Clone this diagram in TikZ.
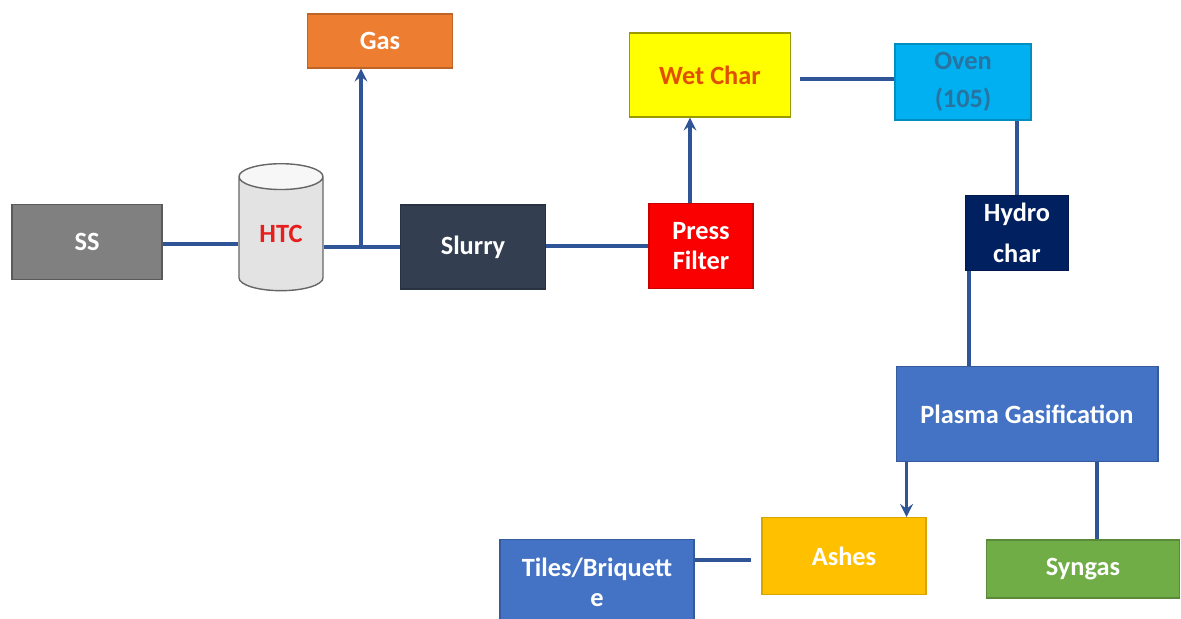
\documentclass[tikz,border=0pt]{standalone}
\usepackage{fontspec}
\setmainfont{Carlito}
\usepackage{tikz}
\usetikzlibrary{calc}
\usetikzlibrary{positioning}
\usetikzlibrary{shapes.geometric}
\usetikzlibrary{arrows}
\definecolor{flowline}{RGB}{47,85,151}
\definecolor{ssgray}{RGB}{128,128,128}
\definecolor{gasorange}{RGB}{237,125,49}
\definecolor{slurrydark}{RGB}{51,63,80}
\definecolor{pressred}{RGB}{250,0,0}
\definecolor{wetyellow}{RGB}{255,255,0}
\definecolor{wettext}{RGB}{225,80,0}
\definecolor{ovenblue}{RGB}{0,176,240}
\definecolor{oventext}{RGB}{40,115,160}
\definecolor{hydronavy}{RGB}{0,32,96}
\definecolor{plasmablue}{RGB}{68,114,196}
\definecolor{ashgold}{RGB}{255,192,0}
\definecolor{syngreen}{RGB}{112,173,71}
\definecolor{htcred}{RGB}{230,30,30}
\tikzset{
  box/.style = {rectangle, align=center, inner sep=0pt, text centered,
    font=\bfseries\fontsize{15}{17}\selectfont, line width=0.6pt},
  ss_box/.style = {box, white, fill=ssgray, draw=ssgray!70!black},
  gas_box/.style = {box, white, fill=gasorange, draw=gasorange!80!black},
  slurry_box/.style = {box, white, fill=slurrydark, draw=slurrydark!80!black},
  press_box/.style = {box, white, fill=pressred, draw=pressred!80!black},
  wet_box/.style = {box, wettext, fill=wetyellow, draw=wetyellow!60!black},
  oven_box/.style = {box, oventext, fill=ovenblue, draw=ovenblue!80!black,
    font=\bfseries\fontsize{15}{22}\selectfont},
  hydro_box/.style = {box, white, fill=hydronavy, draw=hydronavy!80!black,
    font=\bfseries\fontsize{15}{23}\selectfont},
  plasma_box/.style = {box, white, fill=plasmablue, draw=plasmablue!80!black},
  ash_box/.style = {box, white, fill=ashgold, draw=ashgold!85!black},
  syn_box/.style = {box, white, fill=syngreen, draw=syngreen!80!black},
  flow/.style = {draw=flowline, line width=2.2pt},
  flowarrow/.style = {flow, ->}
}

\begin{document}
\begin{tikzpicture}[
    >=stealth,
    x=0.02cm, y=-0.02cm
    ]
  \useasboundingbox (0,0) rectangle (1181,619);
  % first row
  \node (ss) [ss_box, minimum width=3cm, minimum height=1.5cm] at (87,242) {SS};
  \node (htc) [cylinder, shape border rotate=90, aspect=0.6,
    draw=gray!80!black, line width=0.8pt,
    cylinder uses custom fill, cylinder end fill=gray!6, cylinder body fill=gray!22,
    minimum height=2.54cm, minimum width=1.68cm, inner sep=0pt,
    font=\bfseries\fontsize{15}{17}\selectfont, text=htcred] at (281,234) {HTC};
  \node (gas) [gas_box, minimum width=2.9cm, minimum height=1.08cm] at (380,41) {Gas};
  \node (slurry) [slurry_box, minimum width=2.9cm, minimum height=1.68cm] at (473,247) {Slurry};
  \node (press) [press_box, minimum width=2.08cm, minimum height=1.7cm] at (701,246) {Press\\Filter};
  \node (wetchar) [wet_box, minimum width=3.22cm, minimum height=1.68cm] at (710,75) {Wet Char};
  \node (oven) [oven_box, minimum width=2.72cm, minimum height=1.52cm] at (963,82) {Oven\\(105)};
  \node (hydro) [hydro_box, minimum width=2.06cm, minimum height=1.5cm] at (1017,233) {Hydro\\char};
  % lower part
  \node (plasma) [plasma_box, minimum width=5.24cm, minimum height=1.9cm] at (1027,414) {Plasma Gasification};
  \node (ashes) [ash_box, minimum width=3.28cm, minimum height=1.54cm] at (844,556) {Ashes};
  \node (syngas) [syn_box, minimum width=3.86cm, minimum height=1.16cm] at (1083,569) {Syngas};
  \node (tiles) [plasma_box, minimum width=3.88cm, minimum height=1.7cm] at (597,582) {Tiles/Briquett\\e};

  \coordinate (split) at (361,247);
  \draw [flow] (ss.east |- 0,244) -- (htc.west |- 0,244);
  \draw [flow] (htc.east |- split) -- (slurry.west |- split);
  \draw [flowarrow] (split) -- (split |- gas.south);
  \draw [flow] (slurry.east |- press.west) -- (press.west);
  \draw [flowarrow] ([xshift=-0.22cm]press.north) -- ([xshift=-0.22cm]press.north |- wetchar.south);
  \draw [flow] ([xshift=0.18cm]wetchar.east |- 0,79) -- (oven.west |- 0,79);
  \draw [flow] (hydro.north |- oven.south) -- (hydro.north);
  \draw [flow] ([xshift=0.08cm]hydro.south west) -- ([xshift=0.08cm]hydro.south west |- plasma.north);
  \draw [flowarrow] ([xshift=-0.4cm]ashes.north east |- plasma.south) -- ([xshift=-0.4cm]ashes.north east);
  \draw [flow] ([xshift=0.28cm]syngas.north |- plasma.south) -- ([xshift=0.28cm]syngas.north);
  \draw [flow] ([xshift=-0.2cm]ashes.west |- 0,560) -- (tiles.east |- 0,560);
\end{tikzpicture}
\end{document}
